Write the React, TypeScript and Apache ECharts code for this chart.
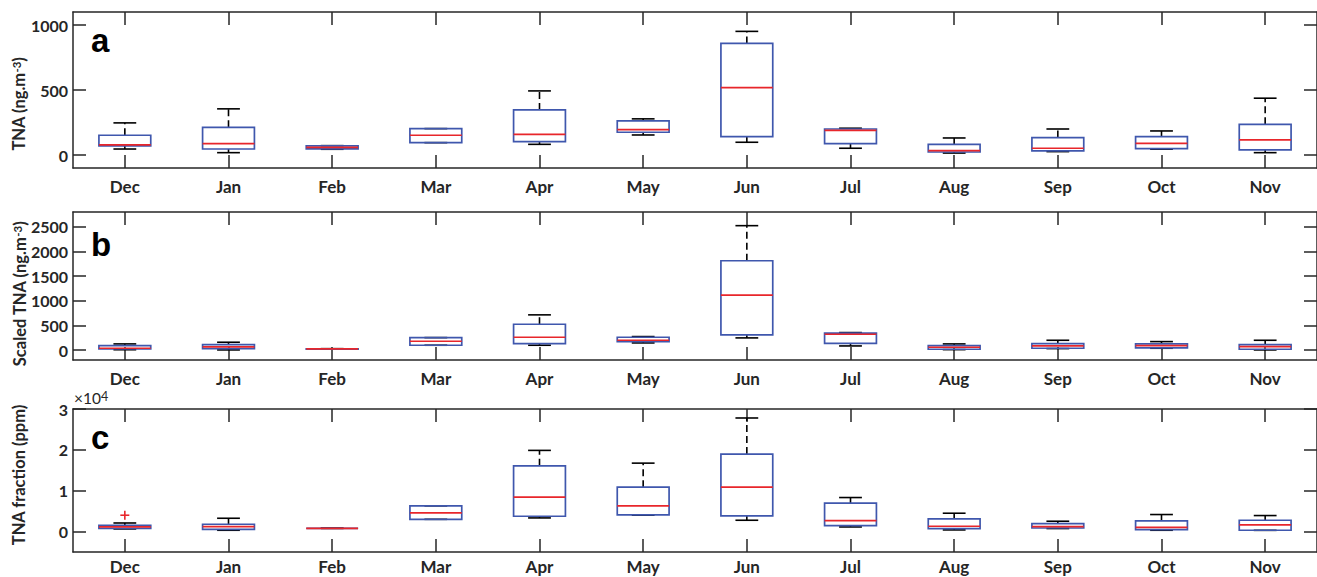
import React, { useEffect, useRef } from "react";
import * as echarts from "echarts";

const months = ["Dec", "Jan", "Feb", "Mar", "Apr", "May", "Jun", "Jul", "Aug", "Sep", "Oct", "Nov"];

// Panel a: TNA (ng.m-3)
const aMin = [46, 18, 44, 95, 82, 154, 98, 52, 15, 26, 45, 18];
const aQ1 = [70, 46, 47, 95, 103, 175, 141, 87, 23, 31, 49, 39];
const aMed = [78, 87, 58, 152, 159, 195, 519, 190, 33, 52, 90, 116];
const aQ3 = [152, 213, 70, 203, 347, 262, 858, 200, 82, 134, 141, 236];
const aMax = [247, 355, 72, 203, 493, 278, 951, 206, 131, 200, 185, 437];

// Panel b: Scaled TNA (ng.m-3)
const bMin = [8, 4, 20, 99, 99, 146, 248, 85, 10, 31, 38, 4];
const bQ1 = [24, 31, 22, 99, 133, 173, 309, 139, 18, 38, 45, 18];
const bMed = [38, 65, 25, 180, 261, 200, 1114, 322, 58, 85, 92, 72];
const bQ3 = [91, 112, 28, 254, 525, 261, 1812, 343, 92, 133, 126, 112];
const bMax = [126, 160, 30, 254, 715, 275, 2523, 356, 126, 200, 173, 200];

// Panel c: TNA fraction (ppm)
const cMin = [640, 320, 800, 3000, 3340, 4000, 2770, 1130, 400, 740, 320, 300];
const cQ1 = [800, 560, 800, 3000, 3750, 4080, 3830, 1470, 740, 880, 490, 320];
const cMed = [1130, 1200, 800, 4560, 8410, 6300, 10870, 2700, 1300, 1230, 1050, 1630];
const cQ3 = [1550, 1790, 800, 6300, 16100, 10870, 18960, 6940, 3100, 1960, 2600, 2770];
const cMax = [2100, 3260, 800, 6300, 19870, 16750, 27800, 8330, 4490, 2530, 4170, 3920];
const cOutliers = [[0, 4000]];

const aTicks = [0, 500, 1000];
const bTicks = [0, 500, 1000, 1500, 2000, 2500];
const cTicks = [0, 10000, 20000, 30000];

const AX = "#262626";
const BLUE = "#3f57ad";
const RED = "#e8262b";
const FONT = "Lato";

function buildRows(mn: number[], q1: number[], md: number[], q3: number[], mx: number[]) {
  return months.map((_, i) => [i, mn[i], q1[i], md[i], q3[i], mx[i]]);
}

function renderBox(params: any, api: any) {
  const idx = api.value(0);
  const p = [1, 2, 3, 4, 5].map((k) => api.coord([idx, api.value(k)]));
  const cx = p[0][0];
  const yMin = p[0][1], yQ1 = p[1][1], yMed = p[2][1], yQ3 = p[3][1], yMax = p[4][1];
  const band = api.size([1, 0])[0];
  const hw = band * 0.25;
  const cw = band * 0.11;
  const wStyle = { stroke: "#000", lineWidth: 1.6, lineDash: [7, 4], fill: null };
  const cStyle = { stroke: "#000", lineWidth: 1.6, fill: null };
  return {
    type: "group",
    children: [
      { type: "line", shape: { x1: cx, y1: yQ3, x2: cx, y2: yMax }, style: wStyle },
      { type: "line", shape: { x1: cx, y1: yQ1, x2: cx, y2: yMin }, style: wStyle },
      { type: "line", shape: { x1: cx - cw, y1: yMax, x2: cx + cw, y2: yMax }, style: cStyle },
      { type: "line", shape: { x1: cx - cw, y1: yMin, x2: cx + cw, y2: yMin }, style: cStyle },
      {
        type: "rect",
        shape: { x: cx - hw, y: yQ3, width: hw * 2, height: yQ1 - yQ3 },
        style: { stroke: BLUE, lineWidth: 1.7, fill: null },
      },
      { type: "line", shape: { x1: cx - hw, y1: yMed, x2: cx + hw, y2: yMed }, style: { stroke: RED, lineWidth: 1.7 } },
    ],
  };
}

function renderPlus(params: any, api: any) {
  const pt = api.coord([api.value(0), api.value(1)]);
  const s = 4.5;
  return {
    type: "group",
    children: [
      { type: "line", shape: { x1: pt[0] - s, y1: pt[1], x2: pt[0] + s, y2: pt[1] }, style: { stroke: RED, lineWidth: 1.6 } },
      { type: "line", shape: { x1: pt[0], y1: pt[1] - s, x2: pt[0], y2: pt[1] + s }, style: { stroke: RED, lineWidth: 1.6 } },
    ],
  };
}

const panels = [
  { top: 12, height: 156, min: -100, max: 1100, ticks: aTicks, labelMargin: 10, rows: buildRows(aMin, aQ1, aMed, aQ3, aMax), fmt: (v: number) => String(v) },
  { top: 212, height: 148, min: -200, max: 2800, ticks: bTicks, labelMargin: 10, rows: buildRows(bMin, bQ1, bMed, bQ3, bMax), fmt: (v: number) => String(v) },
  { top: 409, height: 143, min: -5000, max: 30000, ticks: cTicks, labelMargin: 6, rows: buildRows(cMin, cQ1, cMed, cQ3, cMax), fmt: (v: number) => String(v / 10000) },
];

export default function App() {
  const ref = useRef<HTMLDivElement>(null);
  useEffect(() => {
    if (!ref.current) return;
    const chart = echarts.init(ref.current, null, { renderer: "svg" });
    const grid: any[] = [];
    const xAxis: any[] = [];
    const yAxis: any[] = [];
    const series: any[] = [];
    panels.forEach((pn, i) => {
      grid.push({ left: 73, top: pn.top, width: 1250, height: pn.height });
      const lineStyle = { color: AX, width: 1.5 };
      xAxis.push({
        type: "category", gridIndex: i, data: months, position: "bottom", boundaryGap: true,
        axisLine: { show: true, onZero: false, lineStyle },
        axisTick: { show: true, inside: true, length: 13, alignWithLabel: true, lineStyle },
        axisLabel: { show: true, color: AX, fontFamily: FONT, fontWeight: "bold", fontSize: 17, margin: pn.labelMargin },
        splitLine: { show: false },
      });
      xAxis.push({
        type: "category", gridIndex: i, data: months, position: "top", boundaryGap: true,
        axisLine: { show: true, onZero: false, lineStyle },
        axisTick: { show: true, inside: true, length: 13, alignWithLabel: true, lineStyle },
        axisLabel: { show: false },
        splitLine: { show: false },
      });
      yAxis.push({
        type: "value", gridIndex: i, min: pn.min, max: pn.max, position: "left",
        axisLine: { show: true, onZero: false, lineStyle },
        axisTick: { show: true, inside: true, length: 13, lineStyle, customValues: pn.ticks },
        axisLabel: { show: true, customValues: pn.ticks, formatter: pn.fmt, color: AX, fontFamily: FONT, fontWeight: "bold", fontSize: 16, margin: 5 },
        splitLine: { show: false },
      });
      yAxis.push({
        type: "value", gridIndex: i, min: pn.min, max: pn.max, position: "right",
        axisLine: { show: true, onZero: false, lineStyle },
        axisTick: { show: true, inside: true, length: 13, lineStyle, customValues: pn.ticks },
        axisLabel: { show: false },
        splitLine: { show: false },
      });
      series.push({
        type: "custom", xAxisIndex: 2 * i, yAxisIndex: 2 * i,
        data: pn.rows, encode: { x: 0, y: [1, 2, 3, 4, 5] },
        renderItem: renderBox, clip: false,
      });
    });
    series.push({
      type: "custom", xAxisIndex: 4, yAxisIndex: 4,
      data: cOutliers, encode: { x: 0, y: 1 }, renderItem: renderPlus,
    });

    const titleStyle = (text: string) => ({
      text, fill: AX, fontFamily: FONT, fontWeight: "bold", fontSize: 16.5,
      align: "center", verticalAlign: "middle",
      rich: { sup: { fontFamily: FONT, fontWeight: "bold", fontSize: 11.5, fill: AX, verticalAlign: "top" } },
    });
    const letter = (t: string, x: number, y: number) => ({
      type: "text", x, y,
      style: { text: t, fill: "#000", fontFamily: "Liberation Sans", fontWeight: "bold", fontSize: 33, align: "left", verticalAlign: "middle" },
    });

    const graphic: any[] = [
      { type: "text", x: 19, y: 104, rotation: Math.PI / 2, style: titleStyle("TNA (ng.m{sup|-3})") },
      { type: "text", x: 20, y: 294, rotation: Math.PI / 2, style: titleStyle("Scaled TNA (ng.m{sup|-3})") },
      { type: "text", x: 19, y: 475, rotation: Math.PI / 2, style: titleStyle("TNA fraction (ppm)") },
      letter("a", 91, 40),
      letter("b", 91, 244),
      letter("c", 91, 437),
      {
        type: "text", x: 74, y: 398,
        style: {
          text: "×10{sup|4}", fill: AX, fontFamily: FONT, fontSize: 15.5, align: "left", verticalAlign: "middle",
          rich: { sup: { fontFamily: FONT, fontSize: 12.5, fill: AX, verticalAlign: "top" } },
        },
      },
    ];

    chart.setOption({ animation: false, grid, xAxis, yAxis, series, graphic });
    return () => chart.dispose();
  }, []);
  return <div ref={ref} style={{ position: "absolute", left: 0, top: 0, width: 1317, height: 577 }} />;
}
